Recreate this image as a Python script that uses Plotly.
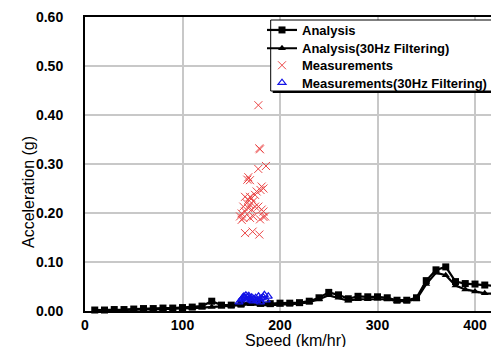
import plotly.graph_objects as go

# ---- data ----
speed = [10, 20, 30, 40, 50, 60, 70, 80, 90, 100, 110, 120, 130, 140, 150, 160, 170, 180, 190, 200,
         210, 220, 230, 240, 250, 260, 270, 280, 290, 300, 310, 320, 330, 340, 350, 360, 370, 380,
         390, 400, 410, 420]
analysis = [0.002, 0.002, 0.003, 0.003, 0.004, 0.005, 0.005, 0.006, 0.006, 0.007, 0.008, 0.010,
            0.020, 0.012, 0.012, 0.014, 0.018, 0.016, 0.015, 0.016, 0.016, 0.017, 0.020, 0.027,
            0.038, 0.033, 0.025, 0.030, 0.029, 0.029, 0.027, 0.022, 0.022, 0.027, 0.062, 0.084,
            0.090, 0.060, 0.056, 0.055, 0.053, 0.051]
analysis_30hz = [0.001, 0.001, 0.002, 0.002, 0.003, 0.003, 0.004, 0.004, 0.005, 0.005, 0.006, 0.007,
                 0.008, 0.009, 0.010, 0.012, 0.014, 0.012, 0.012, 0.013, 0.014, 0.015, 0.018, 0.024,
                 0.032, 0.027, 0.021, 0.024, 0.024, 0.025, 0.024, 0.020, 0.020, 0.024, 0.055, 0.078,
                 0.073, 0.052, 0.044, 0.040, 0.036, 0.035]

meas_speed = [177.8, 178.8, 179.5, 185.6, 177.7, 167.5, 169.2, 166.5, 181.2, 180.0, 183.0, 176.0,
              174.4, 169.2, 167.5, 170.9, 172.6, 165.8, 169.2, 164.1, 174.4, 162.4, 167.5, 170.9,
              177.8, 164.1, 160.7, 181.2, 183.0, 159.0, 162.4, 169.2, 183.0, 160.7, 172.6, 179.5,
              164.1, 171.9, 178.8, 184.7]
meas_acc = [0.420, 0.332, 0.330, 0.296, 0.290, 0.273, 0.267, 0.268, 0.254, 0.247, 0.250, 0.244,
            0.237, 0.233, 0.227, 0.230, 0.224, 0.220, 0.217, 0.233, 0.213, 0.213, 0.210, 0.207,
            0.213, 0.203, 0.199, 0.207, 0.203, 0.193, 0.190, 0.190, 0.192, 0.186, 0.193, 0.187,
            0.159, 0.162, 0.156, 0.193]

meas30_speed = [158, 160, 161, 162, 163, 164, 165, 166, 167, 168, 169, 170, 171, 172, 173, 175,
                176, 178, 179, 180, 181, 183, 184, 186, 188]
meas30_acc = [0.018, 0.022, 0.025, 0.028, 0.030, 0.027, 0.032, 0.024, 0.029, 0.031, 0.026, 0.022,
              0.028, 0.020, 0.025, 0.027, 0.021, 0.030, 0.024, 0.018, 0.026, 0.028, 0.033, 0.022,
              0.030]

x_ticks = [0, 100, 200, 300, 400]
y_ticks = [0.0, 0.1, 0.2, 0.3, 0.4, 0.5, 0.6]

FONT = "Liberation Sans, Arial, sans-serif"

# plot-area geometry in pixels (used only to place layout furniture)
L, R, T, B = 85, 491, 17, 311
def px(x):
    return (x - L) / (R - L)
def py(y):
    return (B - y) / (B - T)

fig = go.Figure()
fig.add_trace(go.Scatter(x=speed, y=analysis, name="Analysis", mode="lines+markers",
                         line=dict(color="black", width=2.2),
                         marker=dict(symbol="square", size=7, color="black"),
                         cliponaxis=False, legend="legend"))
fig.add_trace(go.Scatter(x=speed, y=analysis_30hz, name="Analysis(30Hz Filtering)", mode="lines+markers",
                         line=dict(color="black", width=2.2),
                         marker=dict(symbol="triangle-up", size=7, color="black"),
                         cliponaxis=False, legend="legend2"))
fig.add_trace(go.Scatter(x=meas_speed, y=meas_acc, name="Measurements", mode="markers",
                         marker=dict(symbol="x-thin-open", size=8, color="rgb(235,70,70)",
                                     line=dict(width=1, color="rgb(235,70,70)")),
                         legend="legend3"))
fig.add_trace(go.Scatter(x=meas30_speed, y=meas30_acc, name="Measurements(30Hz Filtering)", mode="markers",
                         marker=dict(symbol="triangle-up-open", size=7, color="rgb(20,20,230)",
                                     line=dict(width=1.2, color="rgb(20,20,230)")),
                         legend="legend4"))

row_y = [30, 48.3, 65.3, 82.7]
leg_common = dict(x=px(262), xanchor="left", yanchor="middle", bgcolor="rgba(0,0,0,0)",
                  borderwidth=0, font=dict(family=FONT, size=13, weight="bold", color="black"))

fig.update_layout(
    width=491, height=347,
    margin=dict(l=L, r=491 - R, t=T, b=347 - B, autoexpand=False),
    paper_bgcolor="white", plot_bgcolor="white",
    font=dict(family=FONT, color="black"),
    showlegend=True,
    legend=dict(y=py(row_y[0]), **leg_common),
    legend2=dict(y=py(row_y[1]), **leg_common),
    legend3=dict(y=py(row_y[2]), **leg_common),
    legend4=dict(y=py(row_y[3]), **leg_common),
    xaxis=dict(range=[0, 416.4], tickvals=x_ticks, ticktext=[str(v) for v in x_ticks],
               showgrid=True, gridcolor="#c8c8c8", gridwidth=2, zeroline=False,
               showline=True, linecolor="black", linewidth=2, mirror=True,
               tickfont=dict(family=FONT, size=14, weight="bold"), ticklabelstandoff=0),
    yaxis=dict(range=[0, 0.6], tickvals=y_ticks, tickformat=".2f",
               showgrid=True, gridcolor="#c8c8c8", gridwidth=2, zeroline=False,
               showline=True, linecolor="black", linewidth=2,
               tickfont=dict(family=FONT, size=14, weight="bold"), ticklabelstandoff=17),
    shapes=[
        # legend box shadow
        dict(type="rect", xref="paper", yref="paper", layer="above",
             x0=px(272.7), x1=px(500), y0=py(93), y1=py(22),
             fillcolor="black", line=dict(width=0)),
        # legend box
        dict(type="rect", xref="paper", yref="paper", layer="above",
             x0=px(270.7), x1=px(498), y0=py(91), y1=py(20),
             fillcolor="white", line=dict(width=1, color="black")),
    ],
    annotations=[
        dict(text="Acceleration (g)", xref="paper", yref="paper", x=px(28), y=py(192),
             xanchor="center", yanchor="middle", textangle=-90, showarrow=False,
             font=dict(family=FONT, size=16)),
        dict(text="Speed (km/hr)", xref="paper", yref="paper", x=px(295), y=py(341),
             xanchor="center", yanchor="middle", showarrow=False,
             font=dict(family=FONT, size=16)),
    ],
)

fig.write_html("out.html", config={"displayModeBar": False},
               post_script="document.body.style.margin='0px';")
